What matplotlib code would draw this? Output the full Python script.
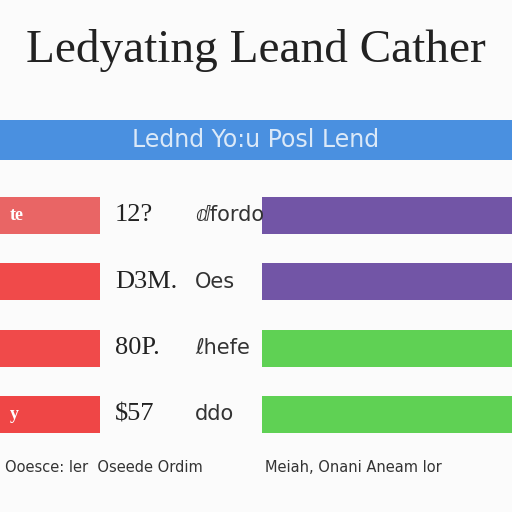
import matplotlib
matplotlib.use("Agg")
import matplotlib.pyplot as plt

title = "Ledyating Leand Cather"
banner = "Lednd Yo:u Posl Lend"
rows = [0, 1, 2, 3]
left_vals = [100, 100, 100, 100]
right_vals = [250, 250, 250, 250]
left_colors = ["#e96565", "#f04a4a", "#f04a4a", "#ef4646"]
right_colors = ["#7255a6", "#7255a6", "#5fd154", "#5fd154"]
left_labels = ["te", "", "", "y"]
mid_nums = ["12?", "D3M.", "80P.", "$57"]
mid_words = ["ⅆfordo", "Oes", "ℓhefe", "ddo"]
foot_left = "Ooesce: ler  Oseede Ordim"
foot_right = "Meiah, Onani Aneam lor"

fig = plt.figure(figsize=(5.12, 5.12), dpi=100)
fig.patch.set_facecolor("#fbfbfb")
ax = fig.add_axes([0, 0, 1, 1])
ax.set_xlim(0, 512)
ax.set_ylim(512, 0)
ax.axis("off")

ax.text(256, 50, title, ha="center", va="center", fontsize=34, family="Liberation Serif", color="#222")
ax.barh([140], [512], left=0, height=40, color="#4a90e0")
ax.text(256, 140, banner, ha="center", va="center", fontsize=17, color="#dbe9f8")

ys = [215 + 66.5 * r for r in rows]
ax.barh(ys, left_vals, left=0, height=37, color=left_colors)
ax.barh(ys, right_vals, left=262, height=37, color=right_colors)
for y, l, n, w in zip(ys, left_labels, mid_nums, mid_words):
    ax.text(10, y, l, ha="left", va="center", fontsize=13, color="white", weight="bold", family="Liberation Serif")
    ax.text(115, y, n, ha="left", va="center", fontsize=19, color="#222", family="Liberation Serif")
    ax.text(195, y, w, ha="left", va="center", fontsize=15, color="#333")

ax.text(5, 467, foot_left, ha="left", va="center", fontsize=10.5, color="#333")
ax.text(265, 467, foot_right, ha="left", va="center", fontsize=10.5, color="#333")
fig.savefig("out.png", dpi=100, facecolor=fig.get_facecolor())
